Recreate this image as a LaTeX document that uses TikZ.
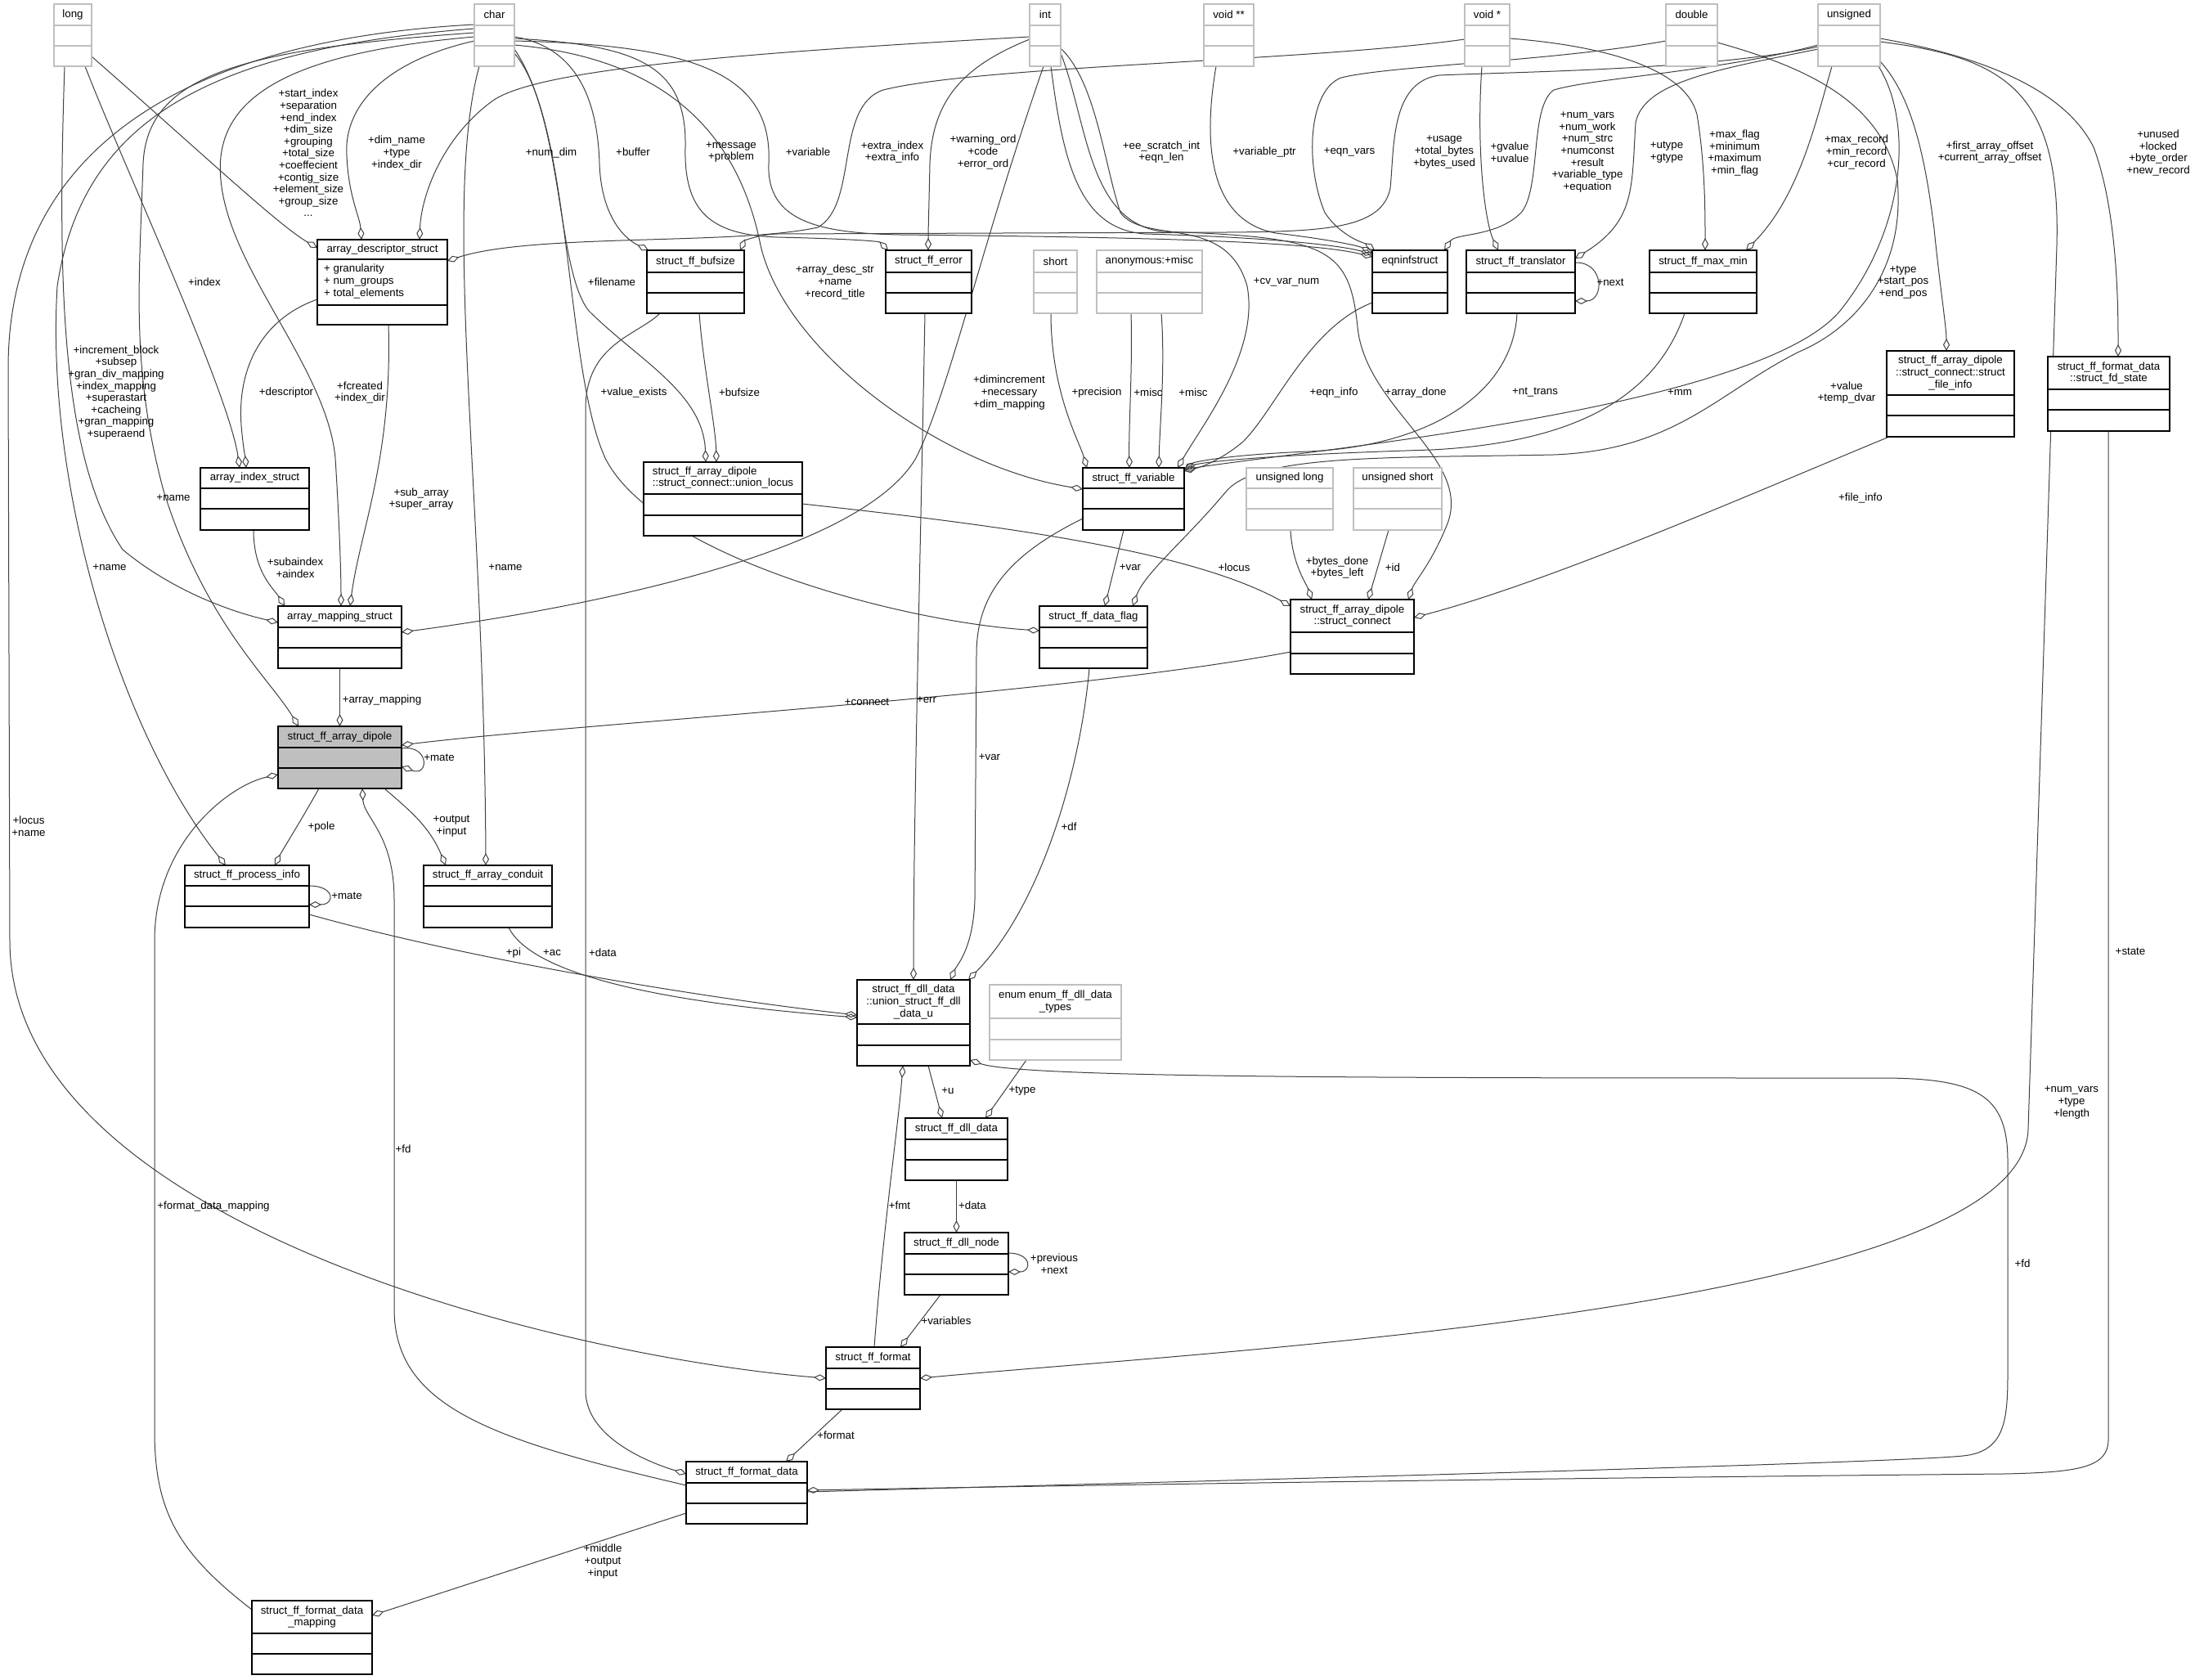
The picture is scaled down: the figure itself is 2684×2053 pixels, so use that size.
\documentclass[tikz,border=0pt]{standalone}
\usepackage{fontspec}
\setmainfont{Liberation Sans}
\usetikzlibrary{arrows.meta,calc}
\pgfdeclarelayer{background}
\pgfsetlayers{background,main}

\definecolor{typgray}{RGB}{191,191,191}
\definecolor{focusgray}{RGB}{191,191,191}
\definecolor{edgegray}{RGB}{64,64,64}
\newcommand{\dxfont}{\fontsize{13.3pt}{14.6pt}\selectfont}

\tikzset{
  cls/.style={draw=black, fill=white, line width=1.4pt, inner sep=0pt, outer sep=0pt},
  typ/.style={draw=typgray, fill=white, line width=1.4pt, inner sep=0pt, outer sep=0pt},
  focus/.style={cls, fill=focusgray},
  classtext/.style={font=\dxfont, align=center, inner sep=0pt},
  lbl/.style={font=\dxfont, align=center, inner sep=0pt},
  agg/.style={draw=edgegray, line width=1pt, -{Diamond[open, length=15pt, width=8pt]}}
}

% [style]{name}{left}{top}{right}{header bottom}{split}{bottom}{title}
\newcommand{\classbox}[9][cls]{%
  \node[#1, minimum width={(#5-#3)*1pt}, minimum height={(#8-#4)*1pt}]
    (#2) at ({(#3+#5)/2},{(#4+#8)/2}) {};
  \draw[#1, fill=none] (#3,#6) -- (#5,#6) (#3,#7) -- (#5,#7);
  \node[classtext] (#2-name) at ({(#3+#5)/2},{(#4+#6)/2}) {#9};
}

\begin{document}
\begin{tikzpicture}[x=1pt, y=-1pt]
  \useasboundingbox (0,0) rectangle (2684,2053);
  \begin{pgfonlayer}{background}
    \fill[white] (0,0) rectangle (2684,2053);
  \end{pgfonlayer}

  % Built-in types (top row)
  \foreach \n/\xl/\xr/\t in {long/66/112/long, char/580/629/char, int/1259/1297/int,
      voidpp/1472/1533/void **, voidp/1791/1846/void *, double/2037/2100/double,
      unsigned/2223/2299/unsigned} {
    \classbox[typ]{\n}{\xl}{5}{\xr}{31}{56}{81}{\t}
  }

  % Second row
  \classbox{descriptor}{388}{293}{547}{317}{373}{397}{array\_descriptor\_struct}
  \node[classtext, align=left, anchor=west] (descriptor-attr) at (396,344)
    {+ granularity\\+ num\_groups\\+ total\_elements};
  \classbox{bufsize}{791}{306}{910}{333}{358}{383}{struct\_ff\_bufsize}
  \classbox{error}{1083}{306}{1188}{333}{358}{383}{struct\_ff\_error}
  \classbox[typ]{short}{1264}{306}{1317}{333}{358}{383}{short}
  \classbox[typ]{anon}{1341}{306}{1470}{333}{358}{383}{anonymous:+misc}
  \classbox{eqninf}{1678}{306}{1770}{333}{358}{383}{eqninfstruct}
  \classbox{translator}{1793}{306}{1926}{333}{358}{383}{struct\_ff\_translator}
  \classbox{maxmin}{2017}{306}{2148}{333}{358}{383}{struct\_ff\_max\_min}

  % Third row
  \classbox{fileinfo}{2307}{429}{2463}{483}{508}{534}{struct\_ff\_array\_dipole\\::struct\_connect::struct\\\_file\_info}
  \classbox{fdstate}{2504}{436}{2653}{476}{501}{527}{struct\_ff\_format\_data\\::struct\_fd\_state}
  \classbox{indexst}{245}{572}{378}{597}{622}{648}{array\_index\_struct}
  \classbox{unionlocus}{787}{565}{981}{604}{630}{655}{\begin{tabular}{@{}l@{}}struct\_ff\_array\_dipole\\::struct\_connect::union\_locus\end{tabular}}
  \classbox{variable}{1324}{572}{1448}{597}{622}{648}{struct\_ff\_variable}
  \classbox[typ]{ulong}{1524}{572}{1630}{597}{622}{648}{unsigned long}
  \classbox[typ]{ushort}{1655}{572}{1763}{597}{622}{648}{unsigned short}

  % Middle
  \classbox{mapping}{340}{741}{491}{767}{792}{817}{array\_mapping\_struct}
  \classbox{dataflag}{1271}{741}{1403}{767}{792}{817}{struct\_ff\_data\_flag}
  \classbox{connect}{1578}{733}{1729}{773}{799}{824}{struct\_ff\_array\_dipole\\::struct\_connect}
  \classbox[focus]{dipole}{340}{888}{491}{914}{939}{964}{struct\_ff\_array\_dipole}
  \classbox{procinfo}{226}{1058}{378}{1083}{1108}{1134}{struct\_ff\_process\_info}
  \classbox{conduit}{518}{1058}{675}{1083}{1108}{1134}{struct\_ff\_array\_conduit}

  % Lower part
  \classbox{unionu}{1048}{1198}{1186}{1252}{1278}{1303}{struct\_ff\_dll\_data\\::union\_struct\_ff\_dll\\\_data\_u}
  \classbox[typ]{enumtypes}{1210}{1204}{1371}{1245}{1271}{1296}{enum enum\_ff\_dll\_data\\\_types}
  \classbox{dlldata}{1107}{1367}{1232}{1393}{1418}{1443}{struct\_ff\_dll\_data}
  \classbox{dllnode}{1106}{1507}{1233}{1533}{1558}{1583}{struct\_ff\_dll\_node}
  \classbox{format}{1010}{1647}{1125}{1673}{1698}{1723}{struct\_ff\_format}
  \classbox{formatdata}{839}{1787}{987}{1813}{1838}{1863}{struct\_ff\_format\_data}
  \classbox{fdmapping}{308}{1957}{455}{1997}{2022}{2047}{struct\_ff\_format\_data\\\_mapping}

  \begin{pgfonlayer}{background}
  % From long
  \draw[agg] ($(long.north east)+(0,64)$) .. controls (250,190) and (340,275) .. ($(descriptor.north west)+(0,10)$);
  \draw[agg] ($(long.south west)+(38,0)$) .. controls (150,200) and (280,480) .. ($(indexst.north west)+(48,0)$);
  \draw[agg] ($(long.south west)+(13,0)$) .. controls (70,350) and (75,560) .. (150,672)
    .. controls (220,730) and (300,752) .. ($(mapping.north west)+(0,20)$);

  % From char
  \draw[agg] ($(char.north west)+(0,45)$) .. controls (470,75) and (420,130) .. (424,190)
    .. controls (426,240) and (440,265) .. ($(descriptor.north west)+(54,0)$);
  \draw[agg] ($(char.north west)+(0,40)$) .. controls (350,65) and (260,120) .. (270,220)
    .. controls (280,330) and (400,450) .. (410,560) .. controls (415,640) and (417,700) .. ($(mapping.north west)+(77,0)$);
  \draw[agg] ($(char.north west)+(0,35)$) .. controls (300,60) and (180,90) .. (175,200)
    .. controls (170,350) and (160,450) .. (200,600) .. controls (250,760) and (330,830) .. ($(dipole.north west)+(25,0)$);
  \draw[agg] ($(char.north west)+(0,30)$) .. controls (250,60) and (100,150) .. (70,350)
    .. controls (55,600) and (150,900) .. ($(procinfo.north west)+(50,0)$);
  \draw[agg] ($(char.north west)+(0,25)$) .. controls (200,50) and (10,200) .. (10,450) -- (12,1150)
    .. controls (12,1500) and (700,1660) .. ($(format.north west)+(0,38)$);
  \draw[agg] ($(char.south west)+(6,0)$) .. controls (540,250) and (592,600) .. ($(conduit.north west)+(76,0)$);
  \draw[agg] ($(char.north east)+(0,40)$) .. controls (690,55) and (730,100) .. (733,200)
    .. controls (735,260) and (760,290) .. ($(bufsize.north west)+(2,0)$);
  \draw[agg] ($(char.north east)+(0,42)$) .. controls (780,55) and (840,80) .. (838,180)
    .. controls (836,260) and (870,287) .. (950,290) .. controls (1040,292) and (1075,295) .. ($(error.north west)+(3,0)$);
  \draw[agg] ($(char.north east)+(0,45)$) .. controls (850,55) and (945,90) .. (940,200)
    .. controls (937,270) and (1000,285) .. (1100,287) .. controls (1400,290) and (1600,295) .. ($(eqninf.north west)+(0,8)$);
  \draw[agg] ($(char.north east)+(0,50)$) .. controls (800,70) and (900,150) .. (930,300)
    .. controls (960,430) and (1150,570) .. ($(variable.north west)+(0,26)$);
  \draw[agg] ($(char.north east)+(0,55)$) .. controls (690,150) and (680,330) .. (720,380)
    .. controls (780,440) and (860,480) .. ($(unionlocus.north west)+(76,0)$);
  \draw[agg] ($(char.north east)+(0,60)$) .. controls (700,150) and (690,450) .. (740,560)
    .. controls (800,680) and (1100,760) .. ($(dataflag.north west)+(0,30)$);

  % From int
  \draw[agg] ($(int.north west)+(0,40)$) .. controls (900,65) and (650,85) .. (600,125)
    .. controls (540,170) and (515,240) .. ($(descriptor.north west)+(125,0)$);
  \draw[agg] ($(int.north west)+(0,43)$) .. controls (1180,80) and (1140,120) .. (1137,200)
    .. controls (1136,250) and (1135,280) .. ($(error.north west)+(52,0)$);
  \draw[agg] ($(int.south west)+(17,0)$) .. controls (1200,300) and (1160,480) .. (1120,560)
    .. controls (1050,680) and (700,745) .. ($(mapping.north east)+(0,32)$);
  \draw[agg] ($(int.south west)+(26,0)$) .. controls (1300,200) and (1320,280) .. (1400,286)
    .. controls (1550,290) and (1640,300) .. ($(eqninf.north west)+(0,5)$);
  \draw[agg] ($(int.north east)+(0,54)$) .. controls (1340,100) and (1350,200) .. (1370,260)
    .. controls (1400,300) and (1500,260) .. (1525,350) .. controls (1540,430) and (1470,520) .. ($(variable.north east)+(-8,0)$);
  \draw[agg] ($(int.north east)+(0,60)$) .. controls (1330,150) and (1330,270) .. (1420,283)
    .. controls (1620,290) and (1650,300) .. (1660,400) .. controls (1670,500) and (1800,560) .. (1770,640)
    .. controls (1750,690) and (1730,710) .. ($(connect.north east)+(-7,0)$);

  % From the pointer types
  \draw[agg] ($(voidpp.south west)+(15,0)$) .. controls (1470,180) and (1480,270) .. (1560,285)
    .. controls (1620,292) and (1660,300) .. ($(eqninf.north west)+(0,3)$);
  \draw[agg] ($(voidp.north west)+(0,43)$) .. controls (1600,75) and (1200,80) .. (1080,110)
    .. controls (1020,130) and (1050,250) .. (1000,278) .. controls (900,300) and (650,285) .. ($(descriptor.north east)+(0,26)$);
  \draw[agg] ($(voidp.south west)+(21,0)$) .. controls (1805,180) and (1815,270) .. ($(translator.north west)+(39,0)$);
  \draw[agg] ($(voidp.north east)+(0,42)$) .. controls (1950,55) and (2060,80) .. (2075,140)
    .. controls (2085,200) and (2085,260) .. ($(maxmin.north west)+(68,0)$);

  % From double
  \draw[agg] ($(double.north west)+(0,45)$) .. controls (1900,75) and (1700,80) .. (1640,95)
    .. controls (1600,110) and (1595,200) .. (1620,260) .. controls (1640,290) and (1670,298) .. ($(eqninf.north west)+(3,0)$);
  \draw[agg] ($(double.north east)+(0,47)$) .. controls (2200,80) and (2300,120) .. (2320,220)
    .. controls (2330,330) and (2270,400) .. (2200,430) .. controls (2100,480) and (2050,550) .. (1900,556)
    .. controls (1700,560) and (1540,555) .. (1500,600) .. controls (1450,660) and (1400,700) .. ($(dataflag.north west)+(114,0)$);

  % From unsigned
  \draw[agg] ($(unsigned.north west)+(0,52)$) .. controls (2100,85) and (1850,88) .. (1760,92)
    .. controls (1700,100) and (1705,180) .. (1700,230) .. controls (1690,280) and (1620,283) .. (1500,284)
    -- (950,286) .. controls (925,287) and (910,295) .. ($(bufsize.north east)+(-5,0)$);
  \draw[agg] ($(unsigned.north west)+(0,50)$) .. controls (2100,88) and (1950,95) .. (1900,110)
    .. controls (1870,130) and (1885,230) .. (1860,260) .. controls (1830,290) and (1780,285) .. ($(eqninf.north east)+(-4,0)$);
  \draw[agg] ($(unsigned.north west)+(0,55)$) .. controls (2100,85) and (2010,100) .. (2000,150)
    .. controls (1995,230) and (2000,270) .. ($(translator.north east)+(0,10)$);
  \draw[agg] ($(unsigned.south west)+(17,0)$) .. controls (2220,150) and (2200,240) .. ($(maxmin.north east)+(-13,0)$);
  \draw[agg] ($(unsigned.north east)+(0,70)$) .. controls (2340,120) and (2355,200) .. (2365,280)
    .. controls (2372,350) and (2380,400) .. ($(fileinfo.north west)+(73,0)$);
  \draw[agg] ($(unsigned.north east)+(0,42)$) .. controls (2400,65) and (2520,100) .. (2560,180)
    .. controls (2590,260) and (2590,380) .. ($(fdstate.north west)+(86,0)$);
  \draw[agg] ($(unsigned.north east)+(0,46)$) .. controls (2450,70) and (2520,110) .. (2515,300) -- (2480,1380)
    .. controls (2475,1600) and (1500,1650) .. ($(format.north east)+(0,38)$);
  \draw[agg] ($(unsigned.south east)+(-2,0)$) .. controls (2340,150) and (2330,280) .. (2250,380)
    .. controls (2150,500) and (1600,550) .. ($(variable.north east)+(0,2)$);

  % Second row structs
  \draw[agg] ($(descriptor.north west)+(0,73)$) .. controls (320,390) and (290,450) .. (295,520)
    .. controls (297,545) and (300,560) .. ($(indexst.north west)+(56,0)$);
  \draw[agg] ($(descriptor.south west)+(87,0)$) .. controls (480,560) and (440,650) .. ($(mapping.north west)+(88,0)$);
  \draw[agg] ($(bufsize.south west)+(16,0)$) .. controls (780,410) and (716,420) .. (716,500) -- (716,1700)
    .. controls (716,1760) and (800,1790) .. ($(formatdata.north west)+(0,15)$);
  \draw[agg] ($(bufsize.south west)+(64,0)$) .. controls (860,450) and (875,520) .. ($(unionlocus.north west)+(89,0)$);
  \draw[agg] ($(error.south west)+(48,0)$) .. controls (1125,700) and (1117,1000) .. ($(unionu.north west)+(69,0)$);
  \draw[agg] ($(short.south west)+(21,0)$) .. controls (1285,480) and (1320,540) .. ($(variable.north west)+(5,0)$);
  \draw[agg] ($(anon.south west)+(42,0)$) .. controls (1385,450) and (1380,520) .. ($(variable.north west)+(57,0)$);
  \draw[agg] ($(anon.south west)+(79,0)$) .. controls (1425,450) and (1418,520) .. ($(variable.north west)+(93,0)$);
  \draw[agg] ($(eqninf.north west)+(0,64)$) .. controls (1600,400) and (1560,500) .. (1520,540)
    .. controls (1490,565) and (1465,572) .. ($(variable.north east)+(0,4)$);
  \draw[agg] ($(translator.north east)+(0,15)$) .. controls (1962,320) and (1962,368) .. ($(translator.north east)+(0,62)$);
  \draw[agg] ($(translator.south west)+(62,0)$) .. controls (1850,480) and (1750,545) .. (1600,552)
    .. controls (1500,556) and (1460,565) .. ($(variable.north east)+(0,3)$);
  \draw[agg] ($(maxmin.south west)+(43,0)$) .. controls (2030,470) and (1950,540) .. (1750,550)
    .. controls (1550,556) and (1470,565) .. ($(variable.north east)+(0,1)$);

  % Third row structs
  \draw[agg] ($(indexst.south west)+(65,0)$) .. controls (310,700) and (335,720) .. ($(mapping.north west)+(8,0)$);
  \draw[agg] ($(unionlocus.north east)+(0,51)$) .. controls (1200,640) and (1450,670) .. ($(connect.north west)+(0,8)$);
  \draw[agg] ($(variable.south west)+(50,0)$) -- ($(dataflag.north west)+(80,0)$);
  \draw[agg] ($(variable.north west)+(0,62)$) .. controls (1230,680) and (1194,730) .. (1194,800) -- (1192,1100)
    .. controls (1190,1160) and (1170,1180) .. ($(unionu.north west)+(114,0)$);
  \draw[agg] ($(ulong.south west)+(54,0)$) .. controls (1580,690) and (1598,715) .. ($(connect.north west)+(26,0)$);
  \draw[agg] ($(ushort.south west)+(43,0)$) -- ($(connect.north west)+(95,0)$);
  \draw[agg] ($(fileinfo.south west)+(3,0)$) .. controls (2150,600) and (1900,710) .. ($(connect.north east)+(0,22)$);
  \draw[agg] ($(fdstate.south west)+(74,0)$) -- (2578,1760) .. controls (2578,1795) and (2540,1800) .. (2450,1802)
    .. controls (1800,1808) and (1200,1818) .. ($(formatdata.north east)+(0,35)$);

  % Around the dipole
  \draw[agg] (mapping.south) -- (dipole.north);
  \draw[agg] ($(connect.north west)+(0,64)$) .. controls (1300,850) and (700,885) .. ($(dipole.north east)+(0,23)$);
  \draw[agg] ($(dipole.north east)+(0,27)$) .. controls (525,910) and (525,950) .. ($(dipole.north east)+(0,49)$);
  \draw[agg] ($(dipole.south west)+(50,0)$) .. controls (370,1000) and (345,1040) .. ($(procinfo.north west)+(110,0)$);
  \draw[agg] ($(dipole.south west)+(130,0)$) .. controls (500,990) and (525,1010) .. ($(conduit.north west)+(27,0)$);
  \draw[agg] ($(dataflag.south west)+(61,0)$) .. controls (1320,950) and (1270,1110) .. ($(unionu.north east)+(-2,0)$);
  \draw[agg] ($(fdmapping.north west)+(0,11)$) .. controls (220,1900) and (189,1850) .. (189,1750) -- (189,1150)
    .. controls (189,1030) and (280,960) .. ($(dipole.north west)+(0,59)$);
  \draw[agg] ($(formatdata.north west)+(0,29)$) .. controls (600,1760) and (482,1720) .. (482,1600) -- (482,1100)
    .. controls (482,1020) and (445,1000) .. ($(dipole.south west)+(103,0)$);
  \draw[agg] ($(procinfo.north east)+(0,25)$) .. controls (410,1083) and (410,1106) .. ($(procinfo.north east)+(0,48)$);
  \draw[agg] ($(procinfo.north east)+(0,60)$) .. controls (600,1180) and (900,1225) .. ($(unionu.north west)+(0,43)$);
  \draw[agg] ($(conduit.south west)+(104,0)$) .. controls (650,1190) and (800,1225) .. ($(unionu.north west)+(0,46)$);

  % dll list and formats
  \draw[agg] ($(unionu.south west)+(87,0)$) -- ($(dlldata.north west)+(45,0)$);
  \draw[agg] ($(enumtypes.south west)+(45,0)$) -- ($(dlldata.north west)+(98,0)$);
  \draw[agg] (dlldata.south) -- (dllnode.north);
  \draw[agg] ($(dllnode.north east)+(0,25)$) .. controls (1262,1532) and (1262,1555) .. ($(dllnode.north east)+(0,48)$);
  \draw[agg] ($(dllnode.south west)+(44,0)$) -- ($(format.north west)+(91,0)$);
  \draw[agg] ($(format.north west)+(59,0)$) .. controls (1080,1500) and (1098,1380) .. ($(unionu.south west)+(56,0)$);
  \draw[agg] ($(format.south west)+(20,0)$) -- ($(formatdata.north west)+(122,0)$);
  \draw[agg] ($(formatdata.north west)+(0,63)$) -- ($(fdmapping.north east)+(0,18)$);
  \draw[agg] ($(formatdata.north east)+(0,37)$) .. controls (1300,1815) and (2300,1790) .. (2400,1780)
    .. controls (2450,1775) and (2455,1740) .. (2455,1680) -- (2455,1420)
    .. controls (2455,1340) and (2420,1318) .. (2300,1318) .. controls (1700,1318) and (1250,1318) .. ($(unionu.north east)+(0,98)$);
  \end{pgfonlayer}

  % Labels
  \node[lbl] (l-startidx) at (377,187) {+start\_index\\+separation\\+end\_index\\+dim\_size\\+grouping\\+total\_size\\+coeffecient\\+contig\_size\\+element\_size\\+group\_size\\...};
  \node[lbl] (l-dimname) at (485,187) {+dim\_name\\+type\\+index\_dir};
  \node[lbl] (l-numdim) at (674,187) {+num\_dim};
  \node[lbl] (l-buffer) at (774,186) {+buffer};
  \node[lbl] (l-message) at (894,186) {+message\\+problem};
  \node[lbl] (l-variable) at (988,186) {+variable};
  \node[lbl] (l-extra) at (1091,186) {+extra\_index\\+extra\_info};
  \node[lbl] (l-warning) at (1202,186) {+warning\_ord\\+code\\+error\_ord};
  \node[lbl] (l-scratch) at (1420,186) {+ee\_scratch\_int\\+eqn\_len};
  \node[lbl] (l-varptr) at (1546,186) {+variable\_ptr};
  \node[lbl] (l-eqnvars) at (1650,186) {+eqn\_vars};
  \node[lbl] (l-usage) at (1766,186) {+usage\\+total\_bytes\\+bytes\_used};
  \node[lbl] (l-gvalue) at (1846,186) {+gvalue\\+uvalue};
  \node[lbl] (l-numvars) at (1941,186) {+num\_vars\\+num\_work\\+num\_strc\\+numconst\\+result\\+variable\_type\\+equation};
  \node[lbl] (l-utype) at (2038,186) {+utype\\+gtype};
  \node[lbl] (l-maxflag) at (2121,187) {+max\_flag\\+minimum\\+maximum\\+min\_flag};
  \node[lbl] (l-maxrec) at (2270,186) {+max\_record\\+min\_record\\+cur\_record};
  \node[lbl] (l-offset) at (2433,186) {+first\_array\_offset\\+current\_array\_offset};
  \node[lbl] (l-unused) at (2639,187) {+unused\\+locked\\+byte\_order\\+new\_record};
  \node[lbl] (l-index) at (250,345) {+index};
  \node[lbl] (l-filename) at (748,345) {+filename};
  \node[lbl] (l-descstr) at (1021,345) {+array\_desc\_str\\+name\\+record\_title};
  \node[lbl] (l-cvvar) at (1573,345) {+cv\_var\_num};
  \node[lbl] (l-next) at (1969,345) {+next};
  \node[lbl] (l-startpos) at (2327,345) {+type\\+start\_pos\\+end\_pos};
  \node[lbl] (l-incblock) at (142,480) {+increment\_block\\+subsep\\+gran\_div\_mapping\\+index\_mapping\\+superastart\\+cacheing\\+gran\_mapping\\+superaend};
  \node[lbl] (l-descriptor) at (350,480) {+descriptor};
  \node[lbl] (l-fcreated) at (440,480) {+fcreated\\+index\_dir};
  \node[lbl] (l-valexists) at (775,480) {+value\_exists};
  \node[lbl] (l-bufsize) at (904,480) {+bufsize};
  \node[lbl] (l-diminc) at (1234,480) {+dimincrement\\+necessary\\+dim\_mapping};
  \node[lbl] (l-precision) at (1341,480) {+precision};
  \node[lbl] (l-misc1) at (1404,480) {+misc};
  \node[lbl] (l-misc2) at (1459,480) {+misc};
  \node[lbl] (l-eqninfo) at (1631,480) {+eqn\_info};
  \node[lbl] (l-arraydone) at (1731,480) {+array\_done};
  \node[lbl] (l-nttrans) at (1877,480) {+nt\_trans};
  \node[lbl] (l-mm) at (2054,480) {+mm};
  \node[lbl] (l-value) at (2258,480) {+value\\+temp\_dvar};
  \node[lbl] (l-fileinfo) at (2275,609) {+file\_info};
  \node[lbl] (l-name1) at (212,609) {+name};
  \node[lbl] (l-subarray) at (515,610) {+sub\_array\\+super\_array};
  \node[lbl] (l-name2) at (134,694) {+name};
  \node[lbl] (l-subaindex) at (361,694) {+subaindex\\+aindex};
  \node[lbl] (l-name3) at (618,694) {+name};
  \node[lbl] (l-var1) at (1382,694) {+var};
  \node[lbl] (l-locus) at (1509,694) {+locus};
  \node[lbl] (l-bytes) at (1635,694) {+bytes\_done\\+bytes\_left};
  \node[lbl] (l-id) at (1703,694) {+id};
  \node[lbl] (l-arraymap) at (467,856) {+array\_mapping};
  \node[lbl] (l-connect) at (1060,858) {+connect};
  \node[lbl] (l-err) at (1133,856) {+err};
  \node[lbl] (l-mate1) at (537,926) {+mate};
  \node[lbl] (l-var2) at (1210,926) {+var};
  \node[lbl] (l-locusname) at (35,1010) {+locus\\+name};
  \node[lbl] (l-pole) at (393,1011) {+pole};
  \node[lbl] (l-output) at (552,1010) {+output\\+input};
  \node[lbl] (l-df) at (1307,1011) {+df};
  \node[lbl] (l-mate2) at (424,1095) {+mate};
  \node[lbl] (l-pi) at (628,1165) {+pi};
  \node[lbl] (l-ac) at (675,1165) {+ac};
  \node[lbl] (l-data1) at (737,1165) {+data};
  \node[lbl] (l-state) at (2605,1163) {+state};
  \node[lbl] (l-numvars2) at (2533,1348) {+num\_vars\\+type\\+length};
  \node[lbl] (l-u) at (1159,1334) {+u};
  \node[lbl] (l-type) at (1250,1334) {+type};
  \node[lbl] (l-fd1) at (493,1405) {+fd};
  \node[lbl] (l-fdmap) at (261,1475) {+format\_data\_mapping};
  \node[lbl] (l-fmt) at (1100,1474) {+fmt};
  \node[lbl] (l-data2) at (1189,1474) {+data};
  \node[lbl] (l-prevnext) at (1289,1545) {+previous\\+next};
  \node[lbl] (l-fd2) at (2473,1545) {+fd};
  \node[lbl] (l-variables) at (1157,1615) {+variables};
  \node[lbl] (l-format) at (1022,1755) {+format};
  \node[lbl] (l-middle) at (737,1909) {+middle\\+output\\+input};
\end{tikzpicture}
\end{document}
